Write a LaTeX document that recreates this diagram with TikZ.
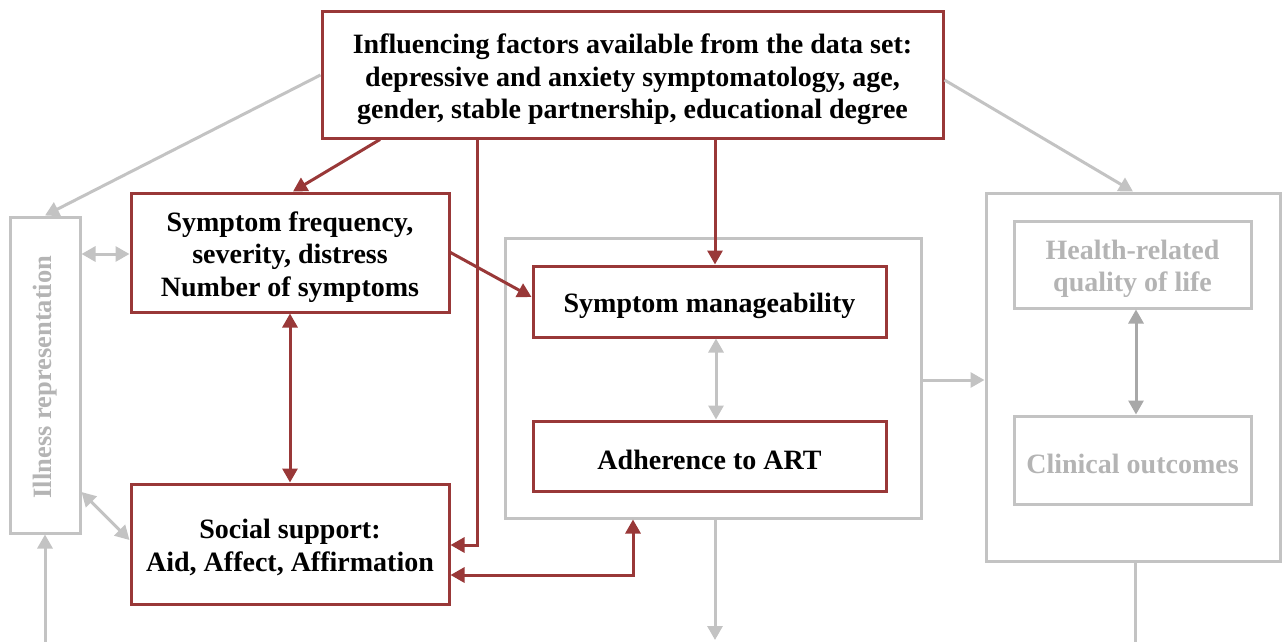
\documentclass[tikz,border=0pt]{standalone}
\usepackage{fontspec}
\setmainfont{Liberation Serif}
\usetikzlibrary{arrows.meta}
\definecolor{dred}{HTML}{993838}
\definecolor{lgrey}{HTML}{C3C3C3}
\definecolor{mgrey}{HTML}{A8A8A8}
\definecolor{tgrey}{HTML}{B4B4B4}
\tikzset{
  tip/.tip={Triangle[length=14pt,width=15pt]},
  boxfont/.style={font=\fontsize{28}{32.5}\selectfont\bfseries},
  redbox/.style={draw=dred,line width=3pt,inner sep=0pt},
  greybox/.style={draw=lgrey,line width=3pt,inner sep=0pt},
  blacktext/.style={inner sep=0pt,align=center,boxfont},
  greytext/.style={inner sep=0pt,align=center,text=tgrey,boxfont},
  redarr/.style={draw=dred,line width=3pt,-tip},
  redbi/.style={draw=dred,line width=3pt,tip-tip},
  greyarr/.style={draw=lgrey,line width=3pt,-tip},
  greybi/.style={draw=lgrey,line width=3pt,tip-tip},
  greyline/.style={draw=lgrey,line width=3pt},
}
\begin{document}
\begin{tikzpicture}[x=1pt,y=-1pt]
\useasboundingbox (0,0) rectangle (1282,642);
% boxes
\node[redbox,minimum width=621pt,minimum height=126pt] (top) at (632.5,75) {};
\node[blacktext] (toptext) at ([yshift=-4.5pt]top.center)
  {Influencing factors available from the data set:\\depressive and anxiety symptomatology, age,\\gender, stable partnership, educational degree};
\node[redbox,minimum width=318pt,minimum height=119pt] (symf) at (290,252.5) {};
\node[blacktext] (symftext) at ([yshift=-4.5pt]symf.center)
  {Symptom frequency,\\severity, distress\\Number of symptoms};
\node[redbox,minimum width=318pt,minimum height=120pt] (soc) at (290,544) {};
\node[blacktext,font=\fontsize{28}{33.5}\selectfont\bfseries] (soctext) at ([yshift=-3.5pt]soc.center)
  {Social support:\\Aid, Affect, Affirmation};
\node[greybox,minimum width=70pt,minimum height=316pt] (ill) at (45,375) {};
\node[text=tgrey,font=\fontsize{26.5}{32.5}\selectfont\bfseries,rotate=90] (illtext) at (45,377) {Illness representation};
\node[greybox,minimum width=416pt,minimum height=280pt] (mid) at (713,378) {};
\node[redbox,minimum width=353pt,minimum height=71pt] (man) at (709.5,301.5) {};
\node[blacktext] (mantext) at ([yshift=-4pt]man.center) {Symptom manageability};
\node[redbox,minimum width=353pt,minimum height=70pt] (adh) at (709.5,456) {};
\node[blacktext] (adhtext) at ([yshift=-3.5pt]adh.center) {Adherence to ART};
\node[greybox,minimum width=294pt,minimum height=368pt] (right) at (1133,377) {};
\node[greybox,minimum width=237pt,minimum height=87pt] (hr) at (1132.5,264.5) {};
\node[greytext] (hrtext) at ([yshift=-4.5pt]hr.center) {Health-related\\quality of life};
\node[greybox,minimum width=237pt,minimum height=88pt] (clin) at (1132.5,460) {};
\node[greytext] (clintext) at ([yshift=-4pt]clin.center) {Clinical outcomes};
% free ends
\coordinate (illin) at (45,642);
\coordinate (midout) at (715,640);
\coordinate (rightout) at (1135,642);
% grey connectors
\draw[greyarr] (top.west) -- (ill.north);
\draw[greyarr] (top.east |- 0,80) -- (right.north);
\draw[greybi] (ill.east |- 0,254) -- (symf.west |- 0,254);
\draw[greybi] (ill.east |- 0,492) -- (soc.west |- 0,540);
\draw[greybi] (man.south -| 716,0) -- (adh.north -| 716,0);
\draw[greyarr] (mid.east |- 0,380) -- (right.west |- 0,380);
\draw[draw=mgrey,line width=3pt,tip-tip] (hr.south -| 1136,0) -- (clin.north -| 1136,0);
\draw[greyarr] (illin) -- (ill.south);
\draw[greyarr] (mid.south -| midout) -- (midout);
\draw[greyline] (right.south -| rightout) -- (rightout);
% red connectors
\draw[redarr] (top.south -| 380,0) -- (symf.north -| 293,0);
\draw[redarr] (top.south -| 477,0) |- (soc.east |- 0,545);
\draw[redarr] (top.south -| 715,0) -- (man.north -| 715,0);
\draw[redarr] (symf.east) -- (man.west |- 0,297);
\draw[redbi] (symf.south) -- (soc.north);
\draw[redbi] (soc.east |- 0,575) -| (mid.south -| 633,0);
\end{tikzpicture}
\end{document}
